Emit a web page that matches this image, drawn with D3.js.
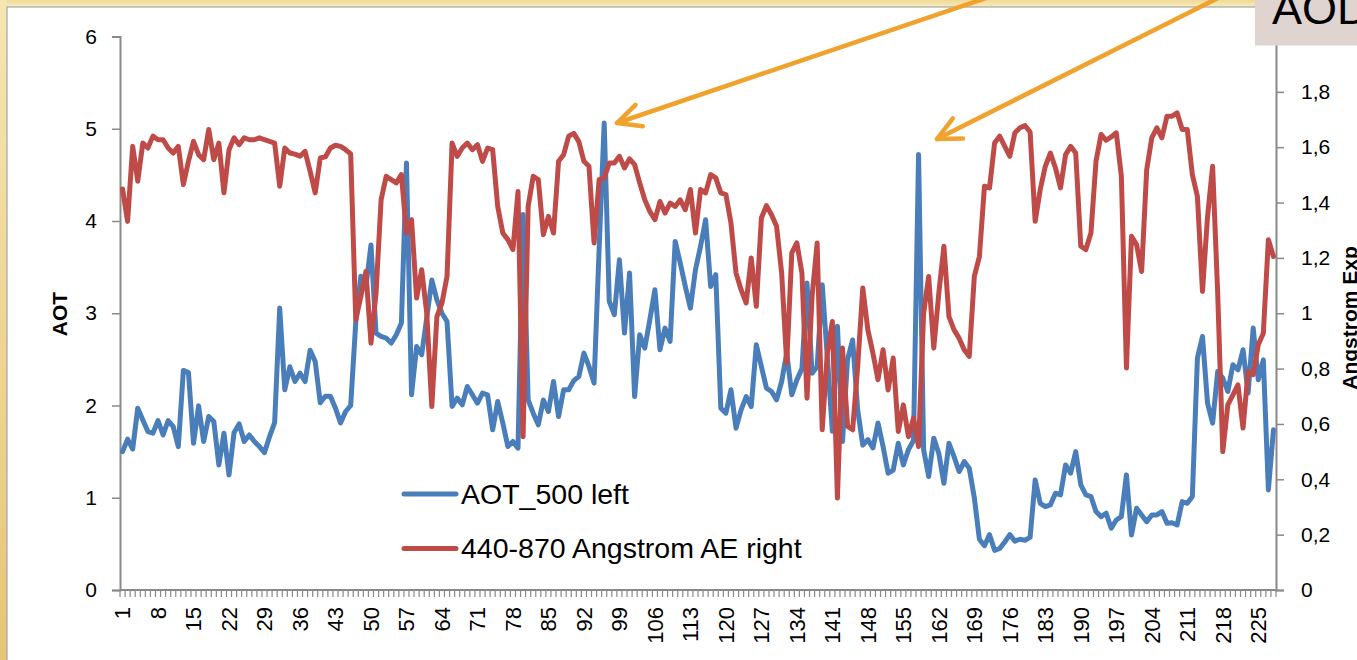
<!DOCTYPE html>
<html>
<head>
<meta charset="utf-8">
<script src="https://cdn.jsdelivr.net/npm/d3@7/dist/d3.min.js"></script>
<style>
  html, body { margin: 0; padding: 0; background: #fff; overflow: hidden; }
  svg { display: block; }
  text { font-family: "Liberation Sans", Arial, sans-serif; fill: #000; }
</style>
</head>
<body>
<svg id="chart" width="1357" height="660"></svg>
<script>
// Day index of each measurement (category axis)
const days = d3.range(1, 229);

// AOT at 500 nm (left axis)
const aot500 = [
  1.50, 1.635, 1.527, 1.971, 1.844, 1.718, 1.70, 1.837, 1.68, 1.837,
  1.772, 1.555, 2.38, 2.358, 1.59, 1.996, 1.61, 1.88, 1.826, 1.356,
  1.70, 1.248, 1.707, 1.80, 1.61, 1.68, 1.61, 1.555, 1.49, 1.663,
  1.815, 3.056, 2.17, 2.42, 2.26, 2.35, 2.26, 2.60, 2.477, 2.03,
  2.10, 2.10, 1.97, 1.81, 1.935, 2.0, 2.9, 3.40, 3.29, 3.74,
  2.785, 2.748, 2.73, 2.677, 2.767, 2.894, 4.63, 2.116, 2.64, 2.55,
  2.95, 3.36, 3.146, 3.0, 2.91, 1.99, 2.08, 2.007, 2.206, 2.116,
  2.025, 2.134, 2.116, 1.736, 2.043, 1.81, 1.555, 1.61, 1.537, 4.07,
  2.06, 1.917, 1.79, 2.06, 1.935, 2.26, 1.88, 2.17, 2.17, 2.27,
  2.314, 2.568, 2.423, 2.243, 3.7, 5.063, 3.128, 2.984, 3.58, 2.785,
  3.436, 2.097, 2.767, 2.622, 2.93, 3.255, 2.604, 2.839, 2.694, 3.779,
  3.544, 3.29, 3.056, 3.472, 3.725, 4.014, 3.29, 3.418, 1.971, 1.917,
  2.17, 1.754, 1.953, 2.097, 1.989, 2.658, 2.423, 2.188, 2.152, 2.061,
  2.26, 2.57, 2.116, 2.278, 2.4, 3.327, 2.35, 2.42, 3.31, 2.53,
  1.72, 2.86, 1.61, 2.50, 2.71, 1.95, 1.57, 1.63, 1.54, 1.81,
  1.555, 1.266, 1.30, 1.59, 1.356, 1.52, 1.62, 4.72, 1.52, 1.23,
  1.646, 1.48, 1.157, 1.59, 1.446, 1.284, 1.392, 1.32, 1.0, 0.55,
  0.48, 0.60, 0.43, 0.45, 0.52, 0.60, 0.53, 0.55, 0.54, 0.57,
  1.193, 0.94, 0.904, 0.922, 1.049, 1.031, 1.356, 1.266, 1.50, 1.139,
  1.031, 1.013, 0.85, 0.795, 0.832, 0.669, 0.759, 0.795, 1.248, 0.597,
  0.886, 0.814, 0.741, 0.814, 0.814, 0.85, 0.723, 0.73, 0.705, 0.958,
  0.94, 1.013, 2.514, 2.748, 2.025, 1.809, 2.369, 2.297, 2.152, 2.441,
  2.387, 2.604, 2.134, 2.839, 2.278, 2.495, 1.085, 1.736
];

// 440-870 nm Angstrom exponent (right axis)
const angstromAE = [
  1.449, 1.332, 1.603, 1.477, 1.615, 1.597, 1.64, 1.627, 1.627, 1.597,
  1.579, 1.603, 1.465, 1.549, 1.621, 1.573, 1.555, 1.664, 1.555, 1.615,
  1.435, 1.591, 1.634, 1.609, 1.634, 1.627, 1.627, 1.634, 1.627, 1.621,
  1.615, 1.459, 1.597, 1.579, 1.575, 1.567, 1.585, 1.513, 1.435, 1.561,
  1.565, 1.597, 1.607, 1.603, 1.591, 1.576, 0.976, 1.061, 1.151, 0.892,
  1.073, 1.41, 1.495, 1.483, 1.471, 1.501, 1.29, 1.338, 1.055, 1.157,
  1.0, 0.663, 0.988, 1.037, 1.133, 1.615, 1.567, 1.597, 1.615, 1.591,
  1.609, 1.549, 1.597, 1.591, 1.386, 1.29, 1.266, 1.23, 1.44, 0.554,
  1.386, 1.495, 1.483, 1.284, 1.35, 1.29, 1.549, 1.573, 1.64, 1.65,
  1.62, 1.549, 1.531, 1.254, 1.483, 1.489, 1.543, 1.543, 1.567, 1.525,
  1.558, 1.537, 1.471, 1.41, 1.368, 1.338, 1.404, 1.362, 1.398, 1.386,
  1.41, 1.374, 1.447, 1.29, 1.447, 1.435, 1.501, 1.489, 1.435, 1.429,
  1.326, 1.145, 1.085, 1.037, 1.20, 1.025, 1.344, 1.389, 1.356, 1.314,
  1.145, 0.82, 1.218, 1.254, 1.145, 0.693, 1.061, 1.254, 0.579, 0.856,
  0.97, 0.332, 0.874, 0.591, 0.579, 0.808, 1.091, 0.94, 0.856, 0.76,
  0.868, 0.723, 0.838, 0.573, 0.669, 0.554, 0.621, 0.518, 1.0, 1.133,
  0.874, 1.073, 1.242, 0.988, 0.94, 0.91, 0.868, 0.844, 1.133, 1.205,
  1.459, 1.453, 1.615, 1.64, 1.603, 1.567, 1.652, 1.67, 1.678, 1.655,
  1.332, 1.447, 1.531, 1.579, 1.525, 1.453, 1.573, 1.603, 1.579, 1.242,
  1.23, 1.29, 1.549, 1.646, 1.625, 1.637, 1.652, 1.495, 0.802, 1.278,
  1.248, 1.151, 1.519, 1.634, 1.67, 1.634, 1.712, 1.712, 1.724, 1.664,
  1.664, 1.501, 1.422, 1.079, 1.35, 1.531, 1.073, 0.50, 0.669, 0.705,
  0.741, 0.585, 0.79, 0.778, 0.886, 0.928, 1.266, 1.205
];

const leftTicks = [0, 1, 2, 3, 4, 5, 6];
// the 2,0 label sits under the title box, so only the visible ones are drawn
const rightTicks = [0, 0.2, 0.4, 0.6, 0.8, 1, 1.2, 1.4, 1.6, 1.8];
const dayLabels = days.filter(d => d % 7 === 1);

const seriesNames = ["AOT_500 left", "440-870 Angstrom AE right"];
const seriesColors = ["#4a7ebb", "#be4b48"];

const W = 1357, H = 660;
const plot = { left: 120, right: 1276, top: 36.5, bottom: 590 };

const svg = d3.select("#chart");

// ---- slide frame ----
const defs = svg.append("defs");
const gTop = defs.append("linearGradient").attr("id", "frameTop")
  .attr("x1", 0).attr("y1", 0).attr("x2", 0).attr("y2", 1);
gTop.append("stop").attr("offset", "0%").attr("stop-color", "#efd995");
gTop.append("stop").attr("offset", "100%").attr("stop-color", "#f8ecbf");
const gLeft = defs.append("linearGradient").attr("id", "frameLeft")
  .attr("x1", 0).attr("y1", 0).attr("x2", 0).attr("y2", 1);
gLeft.append("stop").attr("offset", "0%").attr("stop-color", "#f6e6b0");
gLeft.append("stop").attr("offset", "100%").attr("stop-color", "#e6c676");

svg.append("rect").attr("x", 0).attr("y", 0).attr("width", W).attr("height", 7)
  .attr("fill", "url(#frameTop)");
svg.append("rect").attr("x", 0).attr("y", 0).attr("width", 7).attr("height", H)
  .attr("fill", "url(#frameLeft)");
svg.append("rect").attr("x", 7).attr("y", 7).attr("width", W).attr("height", H)
  .attr("fill", "#fff").attr("stroke", "#a6a6a6").attr("stroke-width", 1.2);

// ---- scales ----
const x = d3.scaleBand().domain(days).range([plot.left, plot.right]).paddingInner(0).paddingOuter(0);
const xc = d => x(d) + x.bandwidth() / 2;
const yL = d3.scaleLinear().domain([0, 6]).range([plot.bottom, plot.top]);
const yR = d3.scaleLinear().domain([0, 2]).range([plot.bottom, plot.top]);

const axisColor = "#898989";

// ---- left axis ----
const leftAxis = d3.axisLeft(yL).tickValues(leftTicks).tickSize(8).tickPadding(15)
  .tickFormat(d3.format("d"));
const gL = svg.append("g").attr("transform", `translate(${plot.left},0)`).call(leftAxis);
gL.select(".domain").attr("stroke", axisColor).attr("stroke-width", 2);
gL.selectAll(".tick line").attr("stroke", axisColor).attr("stroke-width", 1.5);
gL.selectAll(".tick text").attr("font-size", 21).attr("font-family", "Liberation Sans, Arial, sans-serif").attr("fill", "#000");

// ---- right axis ----
const commaFmt = d => d3.format("~g")(d).replace(".", ",");
const rightAxis = d3.axisRight(yR).tickValues(rightTicks).tickSize(8).tickPadding(17)
  .tickFormat(commaFmt);
const gR = svg.append("g").attr("transform", `translate(${plot.right},0)`).call(rightAxis);
gR.select(".domain").attr("stroke", axisColor).attr("stroke-width", 2);
gR.selectAll(".tick line").attr("stroke", axisColor).attr("stroke-width", 1.5);
gR.selectAll(".tick text").attr("font-size", 21).attr("font-family", "Liberation Sans, Arial, sans-serif").attr("fill", "#000");

// ---- category axis: a tick at each category boundary, a label every 7th day ----
const gX = svg.append("g");
gX.append("line").attr("x1", plot.left).attr("x2", plot.right)
  .attr("y1", plot.bottom).attr("y2", plot.bottom)
  .attr("stroke", axisColor).attr("stroke-width", 2);
const bounds = days.map(d => x(d)).concat([x(days[days.length - 1]) + x.bandwidth()]);
gX.selectAll("line.tk").data(bounds).join("line").attr("class", "tk")
  .attr("x1", d => d).attr("x2", d => d)
  .attr("y1", plot.bottom).attr("y2", plot.bottom + 7)
  .attr("stroke", axisColor).attr("stroke-width", 1.2);
gX.selectAll("text").data(dayLabels).join("text")
  .attr("transform", d => `translate(${xc(d)},${plot.bottom + 17}) rotate(-90)`)
  .attr("text-anchor", "end").attr("dy", "0.36em")
  .attr("font-size", 22).text(d => d);

// ---- axis titles ----
svg.append("text").attr("transform", "translate(67,314) rotate(-90)")
  .attr("text-anchor", "middle").attr("font-weight", "bold").attr("font-size", 21)
  .text("AOT");
svg.append("text").attr("transform", "translate(1357,318) rotate(-90)")
  .attr("text-anchor", "middle").attr("font-weight", "bold").attr("font-size", 21)
  .text("Angstrom Exp");

// ---- series lines ----
const lineL = d3.line().x((d, i) => xc(days[i])).y(d => yL(d));
const lineR = d3.line().x((d, i) => xc(days[i])).y(d => yR(d));
svg.append("path").datum(aot500).attr("d", lineL)
  .attr("fill", "none").attr("stroke", seriesColors[0]).attr("stroke-width", 5)
  .attr("stroke-linejoin", "round").attr("stroke-linecap", "round");
svg.append("path").datum(angstromAE).attr("d", lineR)
  .attr("fill", "none").attr("stroke", seriesColors[1]).attr("stroke-width", 5)
  .attr("stroke-linejoin", "round").attr("stroke-linecap", "round");

// ---- legend ----
const legend = svg.append("g");
seriesNames.forEach((name, i) => {
  const yy = 494 + i * 54.5;
  legend.append("line").attr("x1", 404).attr("x2", 456).attr("y1", yy).attr("y2", yy)
    .attr("stroke", seriesColors[i]).attr("stroke-width", 5).attr("stroke-linecap", "round");
  legend.append("text").attr("x", 461).attr("y", yy + 9.5)
    .attr("font-size", 28.5).text(name);
});

// ---- title box ----
svg.append("rect").attr("x", 1255).attr("y", -2).attr("width", 110).attr("height", 47.5)
  .attr("fill", "#e0d4d0");
svg.append("text").attr("x", 1272).attr("y", 24).attr("font-size", 45).text("AOD");

// ---- callout arrows to the two AOT peaks ----
const arrows = [
  { from: [992, -4], to: [617, 123] },
  { from: [1222, -4], to: [937, 139] }
];
const ag = svg.append("g").attr("stroke", "#f0a22e").attr("stroke-width", 4.5)
  .attr("fill", "none").attr("stroke-linecap", "round").attr("stroke-linejoin", "round");
arrows.forEach(a => {
  const [x0, y0] = a.from, [x1, y1] = a.to;
  ag.append("line").attr("x1", x0).attr("y1", y0).attr("x2", x1).attr("y2", y1);
  const ang = Math.atan2(y0 - y1, x0 - x1);
  const L = 26, th = 0.45;
  const p1 = [x1 + L * Math.cos(ang - th), y1 + L * Math.sin(ang - th)];
  const p2 = [x1 + L * Math.cos(ang + th), y1 + L * Math.sin(ang + th)];
  ag.append("path").attr("d", `M${p1[0]},${p1[1]} L${x1},${y1} L${p2[0]},${p2[1]}`);
});
</script>
</body>
</html>
